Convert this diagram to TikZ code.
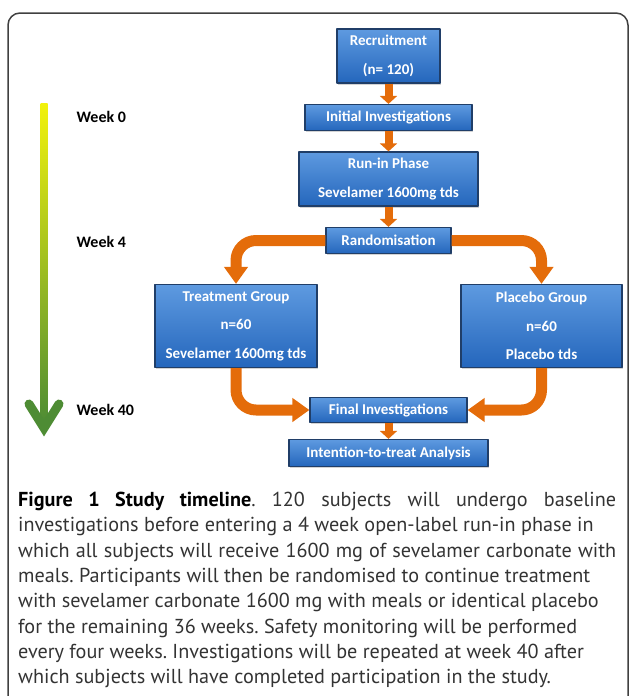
\documentclass[tikz,border=0pt]{standalone}
\usepackage{fontspec}
\setmainfont{Carlito}
\newfontfamily\capfont{PT Sans}
\usetikzlibrary{arrows.meta,shadows}
\definecolor{boxtop}{RGB}{94,154,224}
\definecolor{boxbot}{RGB}{36,102,188}
\definecolor{boxline}{RGB}{32,62,104}
\definecolor{flow}{RGB}{228,108,10}
\definecolor{timetop}{RGB}{242,242,12}
\definecolor{timemid}{RGB}{168,190,116}
\definecolor{timebot}{RGB}{78,140,52}
\frenchspacing
\begin{document}
\begin{tikzpicture}[x=1pt, y=-1pt, line join=round,
	stage/.style={draw=boxline, line width=1.2pt, top color=boxtop, bottom color=boxbot,
		text=white, font=\bfseries\fontsize{15}{28.5}\selectfont, align=center, inner sep=0pt,
		drop shadow={shadow xshift=1pt, shadow yshift=-1.5pt, opacity=0.35}},
	link/.style={draw=flow, line width=8pt, -{Triangle[width=17pt,length=8pt]}},
	branch/.style={draw=flow, line width=11pt, rounded corners=20pt, -{Triangle[width=23pt,length=17pt]}},
	weeklabel/.style={font=\bfseries\fontsize{16}{16}\selectfont, anchor=west}]
	\useasboundingbox (0,0) rectangle (629,696);
	\draw[line width=1.5pt, black!75, rounded corners=12pt] (8,13) rectangle (628,712);
	% time line
	\shade[top color=timetop, middle color=timemid, bottom color=timebot] (40.5,103) rectangle (47.5,424);
	\draw[timebot, line width=9pt, line cap=round, line join=miter] (29,404) -- (44,428) -- (59,404);
	\foreach \y/\w in {117/0, 242/4, 410/40}
	\node[weeklabel] (week\w) at (73,\y) {Week \w};
	% boxes
	\node[stage, minimum width=103pt, minimum height=54pt] (recruit) at (388.5,56) {Recruitment\\(n= 120)};
	\node[stage, minimum width=167pt, minimum height=26pt] (initial) at (388.5,117.5) {Initial Investigations};
	\node[stage, minimum width=179pt, minimum height=54pt] (runin) at (388.5,179) {Run-in Phase\\Sevelamer 1600mg tds};
	\node[stage, minimum width=125pt, minimum height=26pt] (random) at (388.5,240.5) {Randomisation};
	\node[stage, minimum width=162pt, minimum height=83pt] (treat) at (236,326) {Treatment Group\\n=60\\Sevelamer 1600mg tds};
	\node[stage, minimum width=161pt, minimum height=83pt] (placebo) at (541.5,326) {Placebo Group\\n=60\\Placebo tds};
	\node[stage, minimum width=157pt, minimum height=25pt] (final) at (388.5,410) {Final Investigations};
	\node[stage, minimum width=199pt, minimum height=27pt] (itt) at (388.5,453) {Intention-to-treat Analysis};
	% arrows
	\foreach \a/\b in {recruit/initial, initial/runin, runin/random, final/itt}
	\draw[link] (\a) -- (\b);
	\draw[branch] (random.west) -| (treat.north);
	\draw[branch] (random.east) -| (placebo.north);
	\draw[branch] (treat.south) |- (final.west);
	\draw[branch] (placebo.south) |- (final.east);
	% caption
	\node[anchor=north west, inner sep=0pt, text width=598pt, align=justify,
		font=\capfont\fontsize{20.2}{25.3}\selectfont, text=black!80] (caption) at (18,492)
	{\textbf{\color{black}Figure 1 Study timeline}. 120 subjects will undergo baseline\linebreak
	investigations before entering a 4 week open-label run-in phase in\newline
	which all subjects will receive 1600 mg of sevelamer carbonate with\linebreak
	meals. Participants will then be randomised to continue treatment\newline
	with sevelamer carbonate 1600 mg with meals or identical placebo\newline
	for the remaining 36 weeks. Safety monitoring will be performed\newline
	every four weeks. Investigations will be repeated at week 40 after\newline
	which subjects will have completed participation in the study.};
\end{tikzpicture}
\end{document}
